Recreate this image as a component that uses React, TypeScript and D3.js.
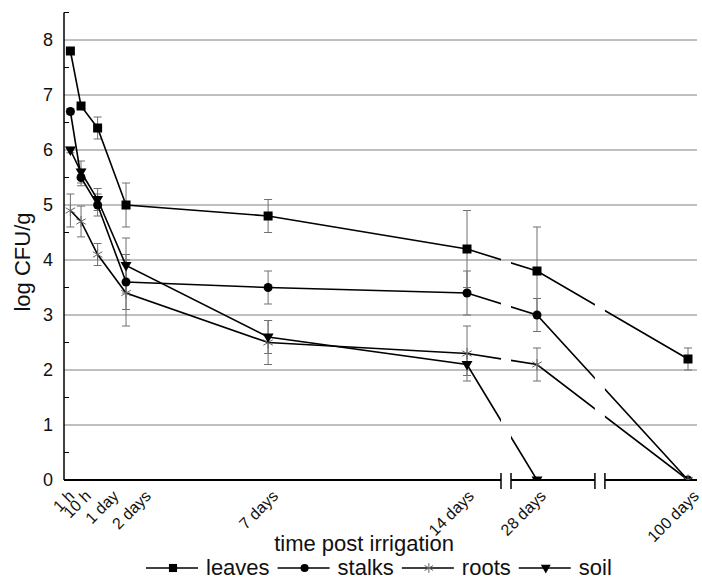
import React, { useEffect, useRef } from "react";
import * as d3 from "d3";

// time points (in days) and their tick labels
const timeLabels = ["1 h", "10 h", "1 day", "2 days", "7 days", "14 days", "28 days", "100 days"];
const timeDays = [1 / 24, 10 / 24, 1, 2, 7, 14, 28, 100];

// log CFU/g per compartment, with error (+/-)
const leaves = [7.8, 6.8, 6.4, 5.0, 4.8, 4.2, 3.8, 2.2];
const leavesErr = [0.05, 0.05, 0.2, 0.4, 0.3, 0.7, 0.8, 0.2];
const stalks = [6.7, 5.5, 5.0, 3.6, 3.5, 3.4, 3.0, 0];
const stalksErr = [0.05, 0.15, 0.2, 0.5, 0.3, 0.4, 0.3, 0];
const roots = [4.9, 4.7, 4.1, 3.4, 2.5, 2.3, 2.1, 0];
const rootsErr = [0.3, 0.28, 0.2, 0.6, 0.4, 0.5, 0.3, 0];
const soil = [6.0, 5.6, 5.1, 3.9, 2.6, 2.1, 0, null];
const soilErr = [0.05, 0.2, 0.2, 0.5, 0.3, 0.2, 0, null];

const seriesNames = ["leaves", "stalks", "roots", "soil"];
const seriesMarkers = ["square", "circle", "asterisk", "triangle"];

const yTicks = [0, 1, 2, 3, 4, 5, 6, 7, 8];
const yMinorTicks = [0.5, 1.5, 2.5, 3.5, 4.5, 5.5, 6.5, 7.5, 8.5];
// axis breaks sit between 14 and 28 days and between 28 and 100 days
const axisBreaks = [21.8, 58];

const xTitle = "time post irrigation";
const yTitle = "log CFU/g";

const FONT = "'Liberation Sans', Arial, Helvetica, sans-serif";

const drawMarker = (g, type, cx, cy, scale = 1) => {
    if (type === "square") {
        const s = 9 * scale;
        g.append("rect").attr("x", cx - s / 2).attr("y", cy - s / 2)
            .attr("width", s).attr("height", s).attr("fill", "black");
    } else if (type === "circle") {
        g.append("circle").attr("cx", cx).attr("cy", cy).attr("r", 4.5 * scale).attr("fill", "black");
    } else if (type === "triangle") {
        const w = 5.5 * scale;
        g.append("path")
            .attr("d", `M${cx - w},${cy - 3.5 * scale}L${cx + w},${cy - 3.5 * scale}L${cx},${cy + 6 * scale}Z`)
            .attr("fill", "black");
    } else {
        const r = 5.5 * scale;
        const dx = r * Math.sin(Math.PI / 3);
        const dy = r * Math.cos(Math.PI / 3);
        g.append("path")
            .attr("d", `M${cx},${cy - r}L${cx},${cy + r}M${cx - dx},${cy - dy}L${cx + dx},${cy + dy}M${cx - dx},${cy + dy}L${cx + dx},${cy - dy}`)
            .attr("stroke", "#666").attr("stroke-width", 1).attr("fill", "none");
    }
};

const renderChart = (svgEl) => {
    const svg = d3.select(svgEl);
    svg.selectAll("*").remove();

    const x = d3.scaleLinear().domain([0, 14, 28, 100]).range([69.2, 467, 537, 688]);
    const y = d3.scaleLinear().domain([0, 8.5]).range([480, 12.5]);
    const xLeft = 64;
    const xRight = 697;
    const yBase = y(0);
    const gap = 5;
    const breaksPx = axisBreaks.map(x);

    const allValues = [leaves, stalks, roots, soil];
    const allErrors = [leavesErr, stalksErr, rootsErr, soilErr];

    // clip: data is hidden inside the axis breaks and below zero
    const clip = svg.append("defs").append("clipPath").attr("id", "plot-clip");
    const edges = [0, ...breaksPx.flatMap(b => [b - gap, b + gap]), 702];
    for (let i = 0; i < edges.length; i += 2) {
        clip.append("rect").attr("x", edges[i]).attr("y", 0)
            .attr("width", edges[i + 1] - edges[i]).attr("height", yBase);
    }

    // gridlines
    svg.append("g").selectAll("line").data(yTicks.filter(d => d > 0)).join("line")
        .attr("x1", xLeft).attr("x2", xRight)
        .attr("y1", d => y(d)).attr("y2", d => y(d))
        .attr("stroke", "#808080").attr("stroke-width", 1);

    // y axis
    const yAxisG = svg.append("g");
    yAxisG.append("line").attr("x1", xLeft).attr("x2", xLeft)
        .attr("y1", y(8.5)).attr("y2", yBase).attr("stroke", "black").attr("stroke-width", 1.5);
    yAxisG.selectAll(".minor").data(yMinorTicks).join("line").attr("class", "minor")
        .attr("x1", xLeft).attr("x2", xLeft + 5)
        .attr("y1", d => y(d)).attr("y2", d => y(d))
        .attr("stroke", "black").attr("stroke-width", 1);
    yAxisG.selectAll("text").data(yTicks).join("text")
        .attr("x", 53).attr("y", d => y(d)).attr("dy", "0.36em")
        .attr("text-anchor", "end").attr("font-family", FONT).attr("font-size", 18)
        .attr("fill", "#111").text(d => d);
    svg.append("text")
        .attr("transform", `translate(30, 262) rotate(-90)`)
        .attr("text-anchor", "middle").attr("font-family", FONT).attr("font-size", 22)
        .attr("fill", "#111").text(yTitle);

    // x axis with breaks
    const xAxisG = svg.append("g");
    const segs = [[xLeft, breaksPx[0] - gap], [breaksPx[0] + gap, breaksPx[1] - gap], [breaksPx[1] + gap, xRight]];
    segs.forEach(([a, b]) => {
        xAxisG.append("line").attr("x1", a).attr("x2", b).attr("y1", yBase).attr("y2", yBase)
            .attr("stroke", "black").attr("stroke-width", 2);
    });
    breaksPx.forEach(b => {
        [b - gap, b + gap].forEach(bx => {
            xAxisG.append("line").attr("x1", bx).attr("x2", bx)
                .attr("y1", yBase - 7).attr("y2", yBase + 9)
                .attr("stroke", "black").attr("stroke-width", 1.5);
        });
    });

    // rotated tick labels, nudged apart where the early ticks crowd together
    const labelDx = [5, 11, 22, 26, 11, 8, 10, 12];
    xAxisG.selectAll("text").data(timeLabels).join("text")
        .attr("transform", (d, i) => `translate(${x(timeDays[i]) + labelDx[i]}, ${yBase + 17}) rotate(-45)`)
        .attr("text-anchor", "end").attr("font-family", FONT).attr("font-size", 16)
        .attr("fill", "#111").text(d => d);

    svg.append("text").attr("x", 364).attr("y", 551)
        .attr("text-anchor", "middle").attr("font-family", FONT).attr("font-size", 22)
        .attr("fill", "#111").text(xTitle);

    // data
    const plotG = svg.append("g").attr("clip-path", "url(#plot-clip)");

    allValues.forEach((vals, s) => {
        const errs = allErrors[s];
        const pts = vals.map((v, i) => ({t: timeDays[i], v, e: errs[i]})).filter(d => d.v !== null);
        pts.filter(d => d.e > 0).forEach(d => {
            const cx = x(d.t);
            const eg = plotG.append("g").attr("stroke", "#707070").attr("stroke-width", 1);
            eg.append("line").attr("x1", cx).attr("x2", cx).attr("y1", y(d.v - d.e)).attr("y2", y(d.v + d.e));
            [d.v - d.e, d.v + d.e].forEach(c => {
                eg.append("line").attr("x1", cx - 4).attr("x2", cx + 4).attr("y1", y(c)).attr("y2", y(c));
            });
        });
    });

    allValues.forEach((vals) => {
        const pts = vals.map((v, i) => ({t: timeDays[i], v})).filter(d => d.v !== null);
        plotG.append("path").datum(pts)
            .attr("d", d3.line().x(d => x(d.t)).y(d => y(d.v)))
            .attr("fill", "none").attr("stroke", "black").attr("stroke-width", 1.6);
    });

    allValues.forEach((vals, s) => {
        vals.forEach((v, i) => {
            if (v === null) return;
            drawMarker(plotG, seriesMarkers[s], x(timeDays[i]), y(v));
        });
    });

    // legend
    const legendG = svg.append("g");
    const lineY = 568;
    let lx = 146;
    seriesNames.forEach((name, s) => {
        legendG.append("line").attr("x1", lx).attr("x2", lx + 52).attr("y1", lineY).attr("y2", lineY)
            .attr("stroke", "black").attr("stroke-width", 1.6);
        drawMarker(legendG, seriesMarkers[s], lx + 27, lineY, 0.9);
        const t = legendG.append("text").attr("x", lx + 60).attr("y", 575)
            .attr("font-family", FONT).attr("font-size", 22).attr("fill", "#111").text(name);
        const w = t.node().getComputedTextLength();
        lx = lx + 60 + w + 8;
    });
};

const App = () => {
    const svgRef = useRef(null);

    useEffect(() => {
        renderChart(svgRef.current);
    }, []);

    return (
        <svg ref={svgRef} width={702} height={581}
             style={{position: "absolute", left: 0, top: 0, background: "white"}}/>
    );
};

export default App;
